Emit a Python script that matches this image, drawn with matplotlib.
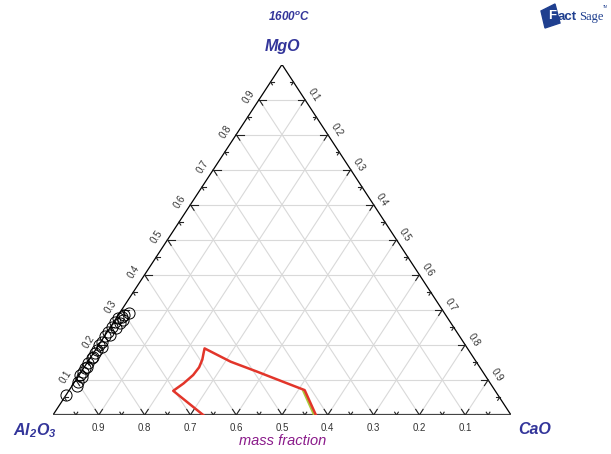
import numpy as np
import matplotlib
matplotlib.use("Agg")
import matplotlib.pyplot as plt
from matplotlib.patches import Polygon

plt.rcParams["font.family"] = ["Liberation Sans", "DejaVu Sans"]
plt.rcParams["mathtext.fontset"] = "custom"
plt.rcParams["mathtext.it"] = "Liberation Sans:bold:italic"
plt.rcParams["mathtext.rm"] = "Liberation Sans:bold:italic"
plt.rcParams["mathtext.bf"] = "Liberation Sans:bold:italic"

W, H = 611, 454

# composition of the measured slags (mass fractions)
slag_mgo = [0.057, 0.083, 0.095, 0.109, 0.114, 0.124, 0.133, 0.138, 0.148, 0.162,
            0.166, 0.176, 0.186, 0.195, 0.200, 0.209, 0.224, 0.228, 0.238, 0.247,
            0.252, 0.262, 0.266, 0.271, 0.276, 0.281, 0.285, 0.290]
slag_cao = [0.000, 0.010, 0.008, 0.008, 0.002, 0.004, 0.003, 0.005, 0.003, 0.004,
            0.005, 0.004, 0.003, 0.009, 0.000, 0.002, 0.002, 0.010, 0.002, 0.015,
            0.002, 0.016, 0.002, 0.018, 0.005, 0.010, 0.012, 0.020]

# liquid boundary at 1600 C
liq_mgo = [0.000, 0.069, 0.090, 0.114, 0.136, 0.158, 0.178, 0.190, 0.152, 0.124, 0.096, 0.071, 0.000]
liq_cao = [0.328, 0.228, 0.240, 0.249, 0.251, 0.247, 0.240, 0.236, 0.312, 0.383, 0.452, 0.514, 0.574]

# second boundary running next to the liquid line
edge_mgo = [0.071, 0.000]
edge_cao = [0.510, 0.570]

grid_vals = [0.1, 0.2, 0.3, 0.4, 0.5, 0.6, 0.7, 0.8, 0.9]
tick_labels = ["0.1", "0.2", "0.3", "0.4", "0.5", "0.6", "0.7", "0.8", "0.9"]


def xy(cao, mgo):
    cao = np.asarray(cao, dtype=float)
    mgo = np.asarray(mgo, dtype=float)
    return cao + mgo / 2, mgo


fig = plt.figure(figsize=(W / 100, H / 100), dpi=100)
ax = fig.add_axes([53 / W, (H - 415) / H, 458 / W, 350.5 / H])
ax.set_xlim(0, 1)
ax.set_ylim(0, 1)
ax.axis("off")

grid_kw = dict(color="#d9d9d9", lw=0.8, zorder=1)
for v in grid_vals:
    # constant MgO
    ax.plot(*xy([0, 1 - v], [v, v]), **grid_kw)
    # constant CaO
    ax.plot(*xy([v, v], [0, 1 - v]), **grid_kw)
    # constant Al2O3
    ax.plot(*xy([1 - v, 0], [0, 1 - v]), **grid_kw)

# triangle outline
ax.plot(*xy([0, 0, 1], [0, 1, 0]), color="black", lw=0.9, zorder=3)
ax.plot(*xy([0, 1], [0, 0]), color="#444444", lw=1.6, zorder=3)

# tick marks drawn as short strokes along the grid directions
tick_kw = dict(color="#222222", lw=0.8, zorder=4)
for k in range(1, 20):
    v = k / 20
    big = k % 2 == 0
    t = 0.016 if big else 0.008
    # bottom edge (Al2O3 scale)
    ax.plot(*xy([v, v], [0, t]), **tick_kw)
    ax.plot(*xy([v, v - t], [0, t]), **tick_kw)
    # left edge (MgO scale)
    ax.plot(*xy([0, t], [v, v]), **tick_kw)
    ax.plot(*xy([0, t], [v, v - t]), **tick_kw)
    # right edge (CaO scale)
    ax.plot(*xy([v, v], [1 - v, 1 - v - t]), **tick_kw)
    ax.plot(*xy([v, v - t], [1 - v, 1 - v]), **tick_kw)

ang = np.degrees(np.arctan2(350.5, 229))
lab_kw = dict(fontsize=7, color="#333333", ha="center", va="center",
              textcoords="offset pixels", annotation_clip=False)
for v, s in zip(grid_vals, tick_labels):
    ax.annotate(s, xy(1 - v, 0), xytext=(0, -13), **lab_kw)
    ax.annotate(s, xy(0, v), xytext=(-10.5, 3), rotation=ang, **lab_kw)
    ax.annotate(s, xy(v, 1 - v), xytext=(8.5, 5), rotation=-ang, **lab_kw)

# data
sx, sy = xy(slag_cao, slag_mgo)
ax.plot(sx, sy, "o", ms=8, mfc="none", mec="black", mew=0.7, zorder=5, clip_on=False)

ex, ey = xy(edge_cao, edge_mgo)
ax.plot(ex, ey, color="#a9c93a", lw=1.6, zorder=5, solid_capstyle="butt")
lx, ly = xy(liq_cao, liq_mgo)
ax.plot(lx, ly, color="#e2352a", lw=1.8, zorder=6, solid_joinstyle="round")

# labels
blue = "#33359a"
fig.text(289 / W, 1 - 17 / H, "1600$^{\\mathregular{o}}$C", color=blue, fontsize=8.5,
         fontweight="bold", fontstyle="italic", ha="center", va="center")
fig.text(283 / W, 1 - 46 / H, "MgO", color=blue, fontsize=11.5, fontweight="bold",
         fontstyle="italic", ha="center", va="center")
fig.text(35 / W, 1 - 431 / H, r"$Al_2O_3$", color=blue, fontsize=11.5, ha="center", va="center")
fig.text(535 / W, 1 - 430 / H, "CaO", color=blue, fontsize=11.5, fontweight="bold",
         fontstyle="italic", ha="center", va="center")
fig.text(283 / W, 1 - 441 / H, "mass fraction", color="#8a1a8a", fontsize=10.5,
         fontstyle="italic", ha="center", va="center")

# FactSage logo
logo_blue = "#1f3f8f"
flag = [(541, 11), (555, 4), (560, 23), (545, 28)]
fig.patches.append(Polygon([(px / W, 1 - py / H) for px, py in flag], closed=True,
                           transform=fig.transFigure, color=logo_blue, zorder=1))
fig.text(552 / W, 1 - 16 / H, "F", color="white", fontsize=9.5, fontweight="bold",
         ha="center", va="center", zorder=2)
fig.text(558 / W, 1 - 17 / H, "act", color=logo_blue, fontsize=9.5, fontweight="bold",
         ha="left", va="center")
fig.text(579 / W, 1 - 17 / H, "Sage", color=logo_blue, fontsize=9,
         family=["Liberation Serif"], ha="left", va="center")
fig.text(603 / W, 1 - 7 / H, "TM", color=logo_blue, fontsize=2.5, ha="left", va="center")

fig.savefig("out.png", dpi=100)
